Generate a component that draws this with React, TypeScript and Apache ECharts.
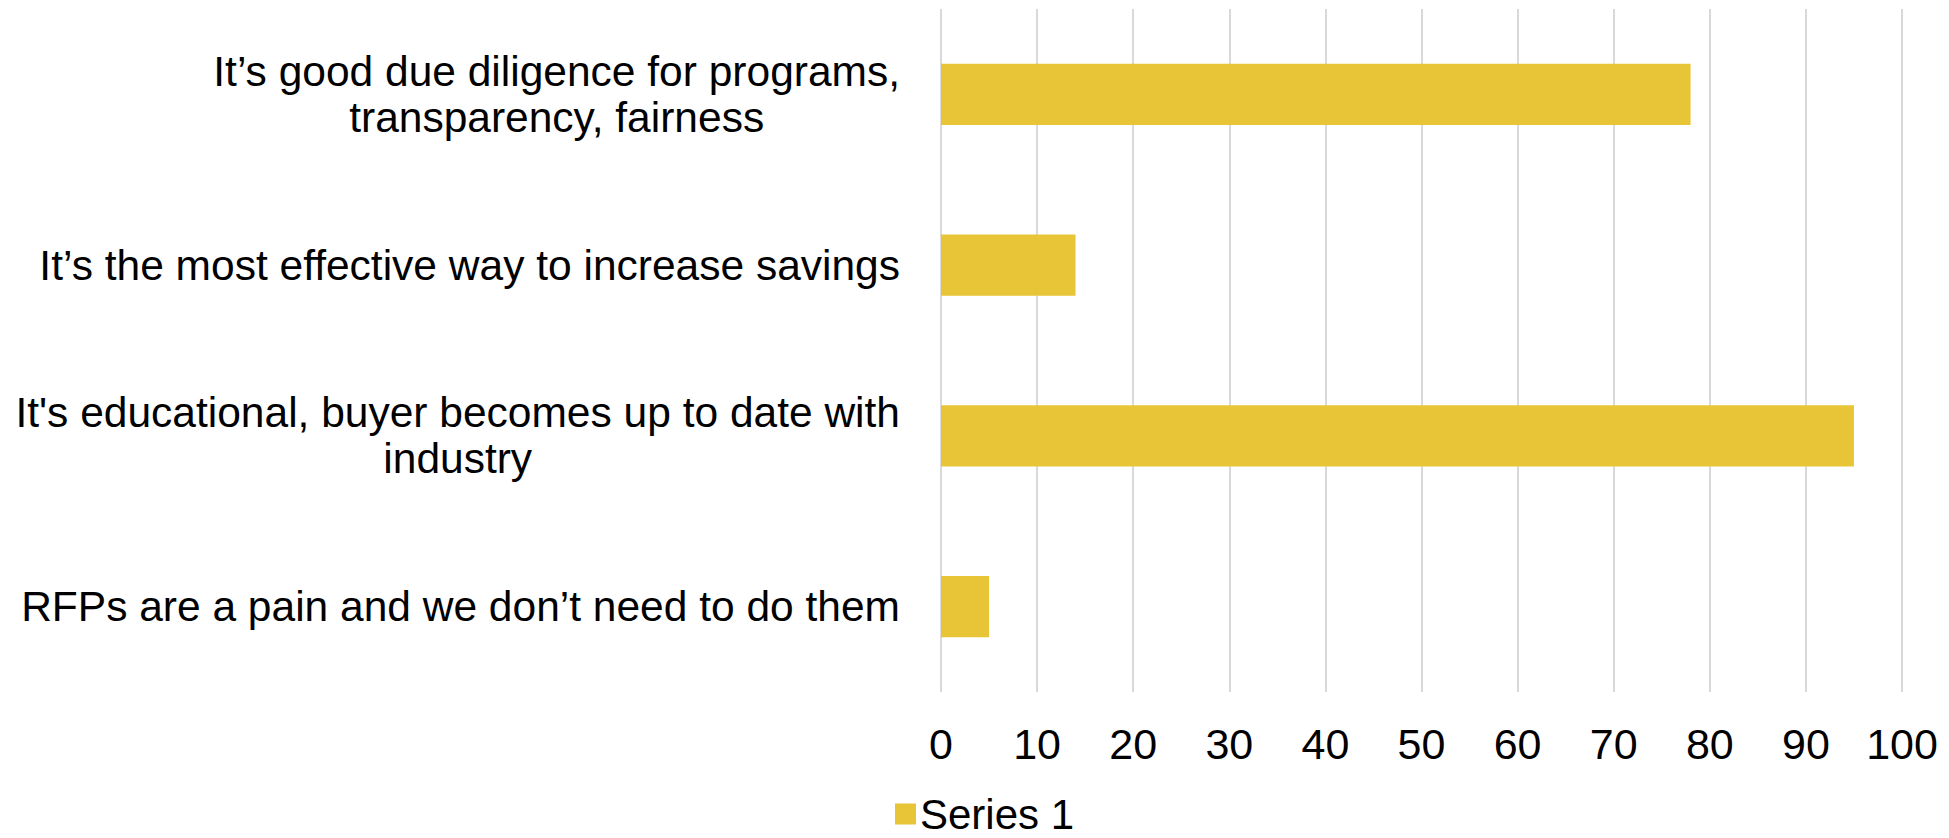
import React, { useEffect, useRef } from "react";
import * as echarts from "echarts";

const categories = [
  "It’s good due diligence for programs,\ntransparency, fairness",
  "It’s the most effective way to increase savings",
  "It's educational, buyer becomes up to date with\nindustry",
  "RFPs are a pain and we don’t need to do them",
];
const series1 = [78, 14, 95, 5];
const seriesName = "Series 1";

export default function App() {
  const ref = useRef<HTMLDivElement>(null);
  useEffect(() => {
    if (!ref.current) return;
    const chart = echarts.init(ref.current, null, { renderer: "svg" });
    const font = "Liberation Sans, Arial, sans-serif";
    chart.setOption({
      animation: false,
      textStyle: { fontFamily: font },
      legend: {
        data: [seriesName],
        left: 895,
        top: 792,
        padding: 0,
        itemWidth: 21,
        itemHeight: 21,
        itemGap: 10,
        icon: "rect",
        textStyle: {
          fontSize: 42,
          lineHeight: 44,
          color: "#000",
          fontFamily: font,
          padding: [0, 0, 0, -1],
        },
      },
      grid: { left: 941, right: 47, top: 9, bottom: 146, containLabel: false },
      xAxis: {
        type: "value",
        min: 0,
        max: 100,
        interval: 10,
        axisLine: { show: false },
        axisTick: { show: false },
        axisLabel: { fontSize: 43, color: "#000", margin: 30, fontFamily: font },
        splitLine: { show: true, lineStyle: { color: "#D9D9D9", width: 2 } },
      },
      yAxis: {
        type: "category",
        inverse: true,
        data: categories,
        axisLine: { show: false },
        axisTick: { show: false },
        axisLabel: {
          margin: 41,
          align: "right",
          formatter: (v: string) =>
            v
              .split("\n")
              .map((l) => "{c|" + l + "}")
              .join("\n"),
          rich: {
            c: {
              align: "center",
              fontSize: 42.5,
              lineHeight: 46,
              color: "#000",
              fontFamily: font,
            },
          },
        },
        splitLine: { show: false },
      },
      series: [
        {
          name: seriesName,
          type: "bar",
          data: series1,
          barWidth: "36%",
          itemStyle: { color: "#E8C536" },
        },
      ],
    });
    return () => chart.dispose();
  }, []);
  return (
    <div
      ref={ref}
      style={{ position: "fixed", left: 0, top: 0, width: 1949, height: 838, background: "#fff" }}
    />
  );
}
